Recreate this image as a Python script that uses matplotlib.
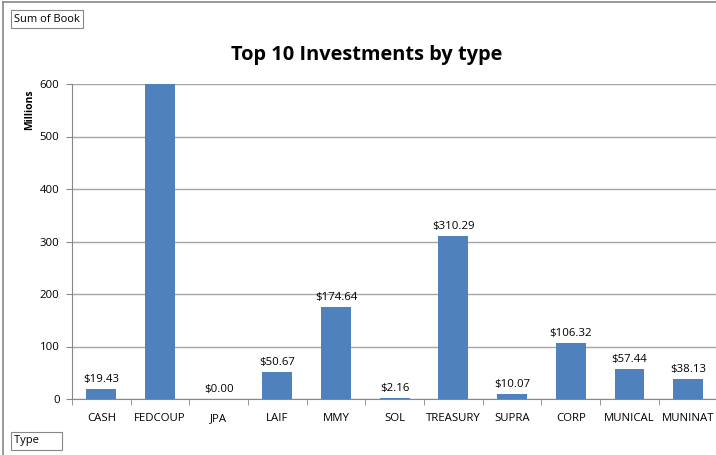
import matplotlib.pyplot as plt
import numpy as np

# investment totals by type (millions); FEDCOUP runs off the top of the chart
types = ['CASH', 'FEDCOUP', 'JPA', 'LAIF', 'MMY', 'SOL', 'TREASURY', 'SUPRA', 'CORP', 'MUNICAL', 'MUNINAT']
book = [19.43, 640.0, 0.00, 50.67, 174.64, 2.16, 310.29, 10.07, 106.32, 57.44, 38.13]
yticks = [0, 100, 200, 300, 400, 500, 600]

plt.rcParams['font.family'] = ['Open Sans', 'DejaVu Sans']

fig = plt.figure(figsize=(7.16, 4.55), dpi=100)
ax = fig.add_axes([72 / 716, (455 - 399) / 455, (717.5 - 72) / 716, (399 - 84) / 455])

x = np.arange(len(types))
bars = ax.bar(x, book, width=0.51, color='#4f81bd', zorder=3)

# value labels, skip the ones that are off the chart
for xi, v in zip(x, book):
    if v <= 600:
        ax.text(xi, v + 8, '$%.2f' % v, ha='center', va='bottom', fontsize=8.2, color='#000000')

ax.set_xlim(-0.5, len(types) - 0.5)
ax.set_ylim(0, 600)
ax.set_yticks(yticks)
ax.set_xticks(x)
ax.set_xticklabels(types, fontsize=8.2)
ax.tick_params(axis='y', labelsize=8.2, length=4, color='#888888', pad=5)
ax.tick_params(axis='x', length=0, pad=10)
ax.set_xticks(np.arange(-0.5, len(types), 1), minor=True)
ax.tick_params(axis='x', which='minor', length=4, color='#888888')
ax.grid(axis='y', color='#a6a6a6', linewidth=1, zorder=0)
for s in ['top', 'right']:
    ax.spines[s].set_visible(False)
ax.spines['left'].set_color('#888888')
ax.spines['bottom'].set_color('#888888')

fig.text(30 / 716, 1 - 110 / 455, 'Millions', rotation=90, ha='center', va='center',
         fontsize=7.5, fontweight='bold')
fig.text(367 / 716, 1 - 55 / 455, 'Top 10 Investments by type', ha='center', va='center',
         fontsize=14.4, fontweight='bold')

# pivot field buttons
fig.text(14 / 716, 1 - 19 / 455, 'Sum of Book', ha='left', va='center', fontsize=8,
         bbox=dict(boxstyle='square,pad=0.3', fc='white', ec='#888888', lw=0.8))
fig.text(14 / 716, 1 - 441 / 455, 'Type       ', ha='left', va='center', fontsize=8,
         bbox=dict(boxstyle='square,pad=0.3', fc='white', ec='#888888', lw=0.8))

# outer chart border (top and left visible)
fig.add_artist(plt.Line2D([3 / 716, 1], [1 - 1.5 / 455, 1 - 1.5 / 455], color='#888888', lw=1.2))
fig.add_artist(plt.Line2D([3 / 716, 3 / 716], [0, 1 - 1.5 / 455], color='#888888', lw=1.2))

fig.savefig('out.png', dpi=100)
